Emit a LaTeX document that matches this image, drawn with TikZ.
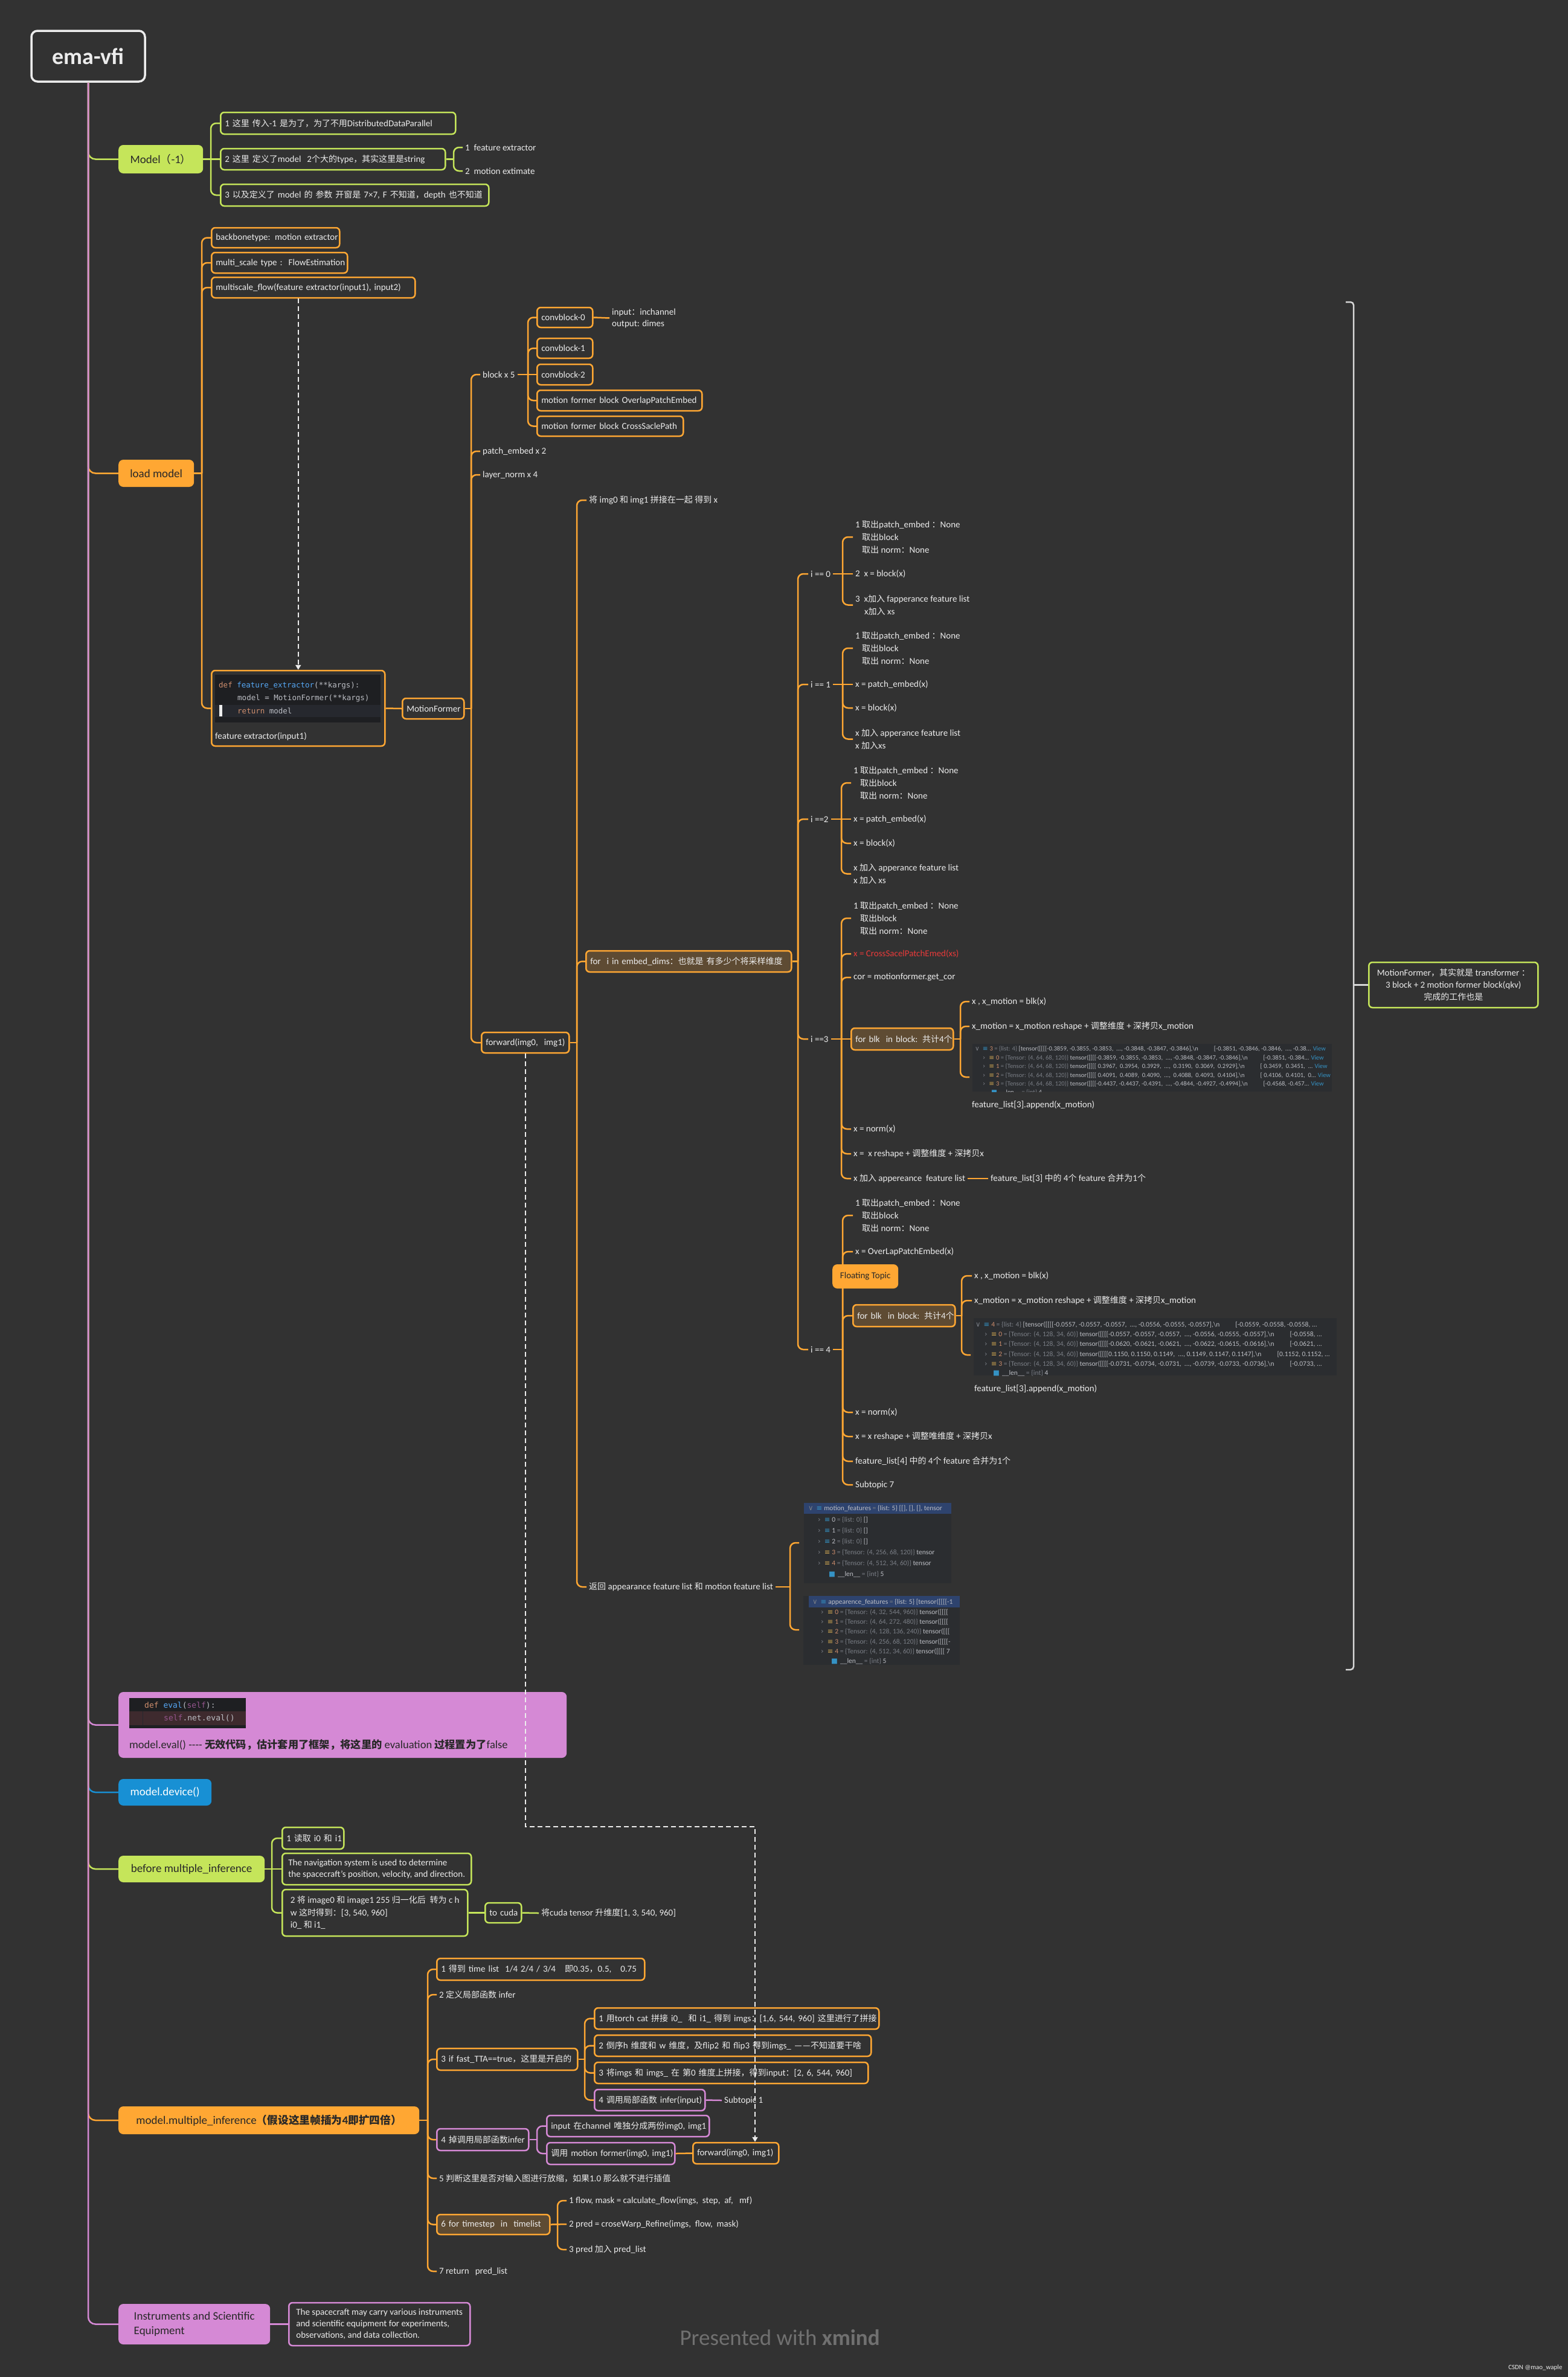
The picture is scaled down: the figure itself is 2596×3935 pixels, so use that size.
\documentclass[tikz,border=0pt]{standalone}
\usepackage{fontspec}
\setmainfont{Carlito}
\newfontfamily\cjkfam{Noto Sans CJK SC}[Scale=0.933]
\newfontfamily\codefam{DejaVu Sans Mono}
\newfontfamily\glyphfont{DejaVu Sans}
\usetikzlibrary{arrows.meta,calc}

% CJK characters switch to the CJK family by themselves
\XeTeXinterchartokenstate=1
\count255="3000
\loop\ifnum\count255<"A000 \XeTeXcharclass\count255=17 \advance\count255 by 1 \repeat
\count255="FF00
\loop\ifnum\count255<"FFF0 \XeTeXcharclass\count255=17 \advance\count255 by 1 \repeat
\XeTeXinterchartoks 0 17 = {\cjkfam}
\XeTeXinterchartoks 1 17 = {\cjkfam}
\XeTeXinterchartoks 2 17 = {\cjkfam}
\XeTeXinterchartoks 3 17 = {\cjkfam}
\XeTeXinterchartoks 4095 17 = {\cjkfam}
\XeTeXinterchartoks 17 0 = {\rmfamily}
\XeTeXinterchartoks 17 1 = {\rmfamily}
\XeTeXinterchartoks 17 2 = {\rmfamily}
\XeTeXinterchartoks 17 3 = {\rmfamily}
\XeTeXinterchartoks 17 4095 = {\rmfamily}

\definecolor{bg}{RGB}{50,50,50}
\definecolor{fg}{RGB}{236,236,236}
\definecolor{dark}{RGB}{40,40,40}
\definecolor{morange}{RGB}{255,167,51}
\definecolor{mgreen}{RGB}{197,229,90}
\definecolor{mpink}{RGB}{213,137,213}
\definecolor{mblue}{RGB}{24,144,212}
\definecolor{mbrown}{RGB}{94,75,51}
\definecolor{codebg}{RGB}{30,31,34}
\definecolor{codehl}{RGB}{38,40,46}
\definecolor{codered}{RGB}{62,42,46}
\definecolor{codefg}{RGB}{188,190,196}
\definecolor{kw}{RGB}{207,142,109}
\definecolor{fn}{RGB}{86,168,245}
\definecolor{slf}{RGB}{148,85,141}
\definecolor{dbgbg}{RGB}{43,45,48}
\definecolor{dbgdim}{RGB}{122,126,133}
\definecolor{dbgsel}{RGB}{46,67,110}
\definecolor{icblue}{RGB}{53,146,196}
\definecolor{icorange}{RGB}{199,160,80}
\definecolor{redtxt}{RGB}{232,58,58}
\definecolor{bracket}{RGB}{215,215,215}
\definecolor{wmark}{RGB}{112,112,112}

\newcommand\rootfont{\fontsize{38}{42}\selectfont\bfseries}
\newcommand\topicfont{\fontsize{19}{24}\selectfont}
\newcommand\subfont{\fontsize{15}{21}\selectfont}
\newcommand\codefont{\codefam\fontsize{12.5}{15}\selectfont}
\newcommand\dbgfont{\fontsize{10.5}{12}\selectfont}
\newcommand\dbgbigfont{\fontsize{11.5}{13}\selectfont}

\begin{document}
\begin{tikzpicture}[x=1pt, y=-1pt,
    mbox/.style={draw, rounded corners=6pt, line width=2.5pt, fill=bg, text=fg, font=\subfont, inner xsep=7pt, inner ysep=0pt, anchor=west},
    oneline/.style={text width=#1, align=left, execute at begin node=\hbox\bgroup, execute at end node=\egroup},
    obox/.style={mbox, draw=morange},
    gbox/.style={mbox, draw=mgreen},
    pbox/.style={mbox, draw=mpink},
    bbox/.style={mbox, draw=morange, fill=mbrown},
    leaf/.style={text=fg, font=\subfont, inner sep=4pt, anchor=west, align=left},
    topic/.style={rounded corners=8pt, text=dark, font=\topicfont, inner xsep=10pt, anchor=west},
    wire/.style={line width=2.5pt, rounded corners=9pt},
    owire/.style={wire, draw=morange},
    gwire/.style={wire, draw=mgreen},
    pwire/.style={wire, draw=mpink},
    relation/.style={draw=fg, line width=2pt, dash pattern=on 8pt off 5pt, -{Triangle[width=9pt,length=8pt]}},
    codeline/.style={anchor=west, inner sep=0pt, font=\codefont, text=codefg},
    dbgrow/.style={anchor=west, inner sep=0pt, font=\dbgfont, text=codefg}]

\useasboundingbox (0,0) rectangle (2596,3935);
\fill[bg] (0,0) rectangle (2596,3935);

% Root and main topics
\node[draw=fg, line width=3.5pt, rounded corners=10pt, fill=bg, text=fg, font=\rootfont, minimum width=188pt, minimum height=84pt] (root) at (146,93) {ema-vfi};
\node[topic, fill=mgreen, minimum width=140pt, minimum height=47pt] (model) at (196,263.5) {Model（-1）};
\node[topic, fill=morange, minimum width=125pt, minimum height=45pt] (load) at (196,783.5) {load model};
\node[topic, fill=mpink, minimum width=742pt, minimum height=109pt] (eval) at (196,2855.5) {};
\node[topic, fill=mblue, text=white, minimum width=154pt, minimum height=44pt] (device) at (196,2967) {model.device()};
\node[topic, fill=mgreen, minimum width=242pt, minimum height=44pt] (before) at (196,3094) {before multiple\_inference};
\node[topic, fill=morange, minimum width=498pt, minimum height=46pt] (multi) at (196,3510) {model.multiple\_inference\textbf{（假设这里帧插为4即扩四倍）}};
\node[topic, fill=mpink, minimum width=251pt, minimum height=67pt, align=left] (instr) at (196,3847.5) {Instruments and Scientific\\Equipment};

\foreach \t/\c in {model/mgreen, load/morange, eval/mpink, device/mblue, before/mgreen, multi/morange, instr/mpink}
  \draw[wire, draw=\c, rounded corners=12pt] (root.south) |- (\t.west);

% Model(-1)
\node[gbox, oneline=375pt, minimum height=36pt] (m1) at (364,204) {1 这里 传入-1 是为了，为了不用DistributedDataParallel};
\node[gbox, oneline=358pt, minimum height=35pt] (m2) at (364,263.5) {2 这里 定义了model\ \ 2个大的type，其实这里是string};
\node[gbox, oneline=430pt, minimum height=36pt] (m3) at (364,323) {3 以及定义了 model 的 参数 开窗是 7×7, F 不知道，depth 也不知道};
\node[leaf] (m2a) at (766,244) {1\ \ feature extractor};
\node[leaf] (m2b) at (766,283) {2\ \ motion extimate};
\coordinate (modelT) at (349,263.5);
\coordinate (m2T) at (751,263.5);
\draw[gwire] (model.east) -- (m2.west);
\foreach \c in {m1,m3} \draw[gwire] (modelT) |- (\c.west);
\draw[gwire] (m2.east) -- (m2T);
\foreach \c in {m2a,m2b} \draw[gwire] (m2T) |- (\c.west);

% load model
\node[obox, oneline=198pt, minimum height=33pt] (backbone) at (349,393.5) {backbonetype: motion extractor};
\node[obox, oneline=211pt, minimum height=34pt] (mscale) at (349,435) {multi\_scale type :\ \ FlowEstimation};
\node[obox, oneline=323pt, minimum height=34pt] (msflow) at (349,476) {multiscale\_flow(feature extractor(input1), input2)};
\node[obox, minimum width=287pt, minimum height=125pt] (fext) at (349,1172.5) {};
\fill[codebg] (356,1117) rectangle (630,1196);
\fill[codehl] (356,1167) rectangle (630,1187);
\fill[fg] (363,1167) rectangle (368,1186);
\node[codeline] (fx1) at (362,1135) {\textcolor{kw}{def} \textcolor{fn}{feature\_extractor}(**kargs):};
\node[codeline] (fx2) at (393,1156) {model = MotionFormer(**kargs)};
\node[codeline] (fx3) at (393,1177) {\textcolor{kw}{return} model};
\node[leaf] (fxcap) at (352,1219) {feature extractor(input1)};
\coordinate (lmT) at (334,783.5);
\draw[owire] (load.east) -- (lmT);
\foreach \c in {backbone,mscale,msflow,fext} \draw[owire] (lmT) |- (\c.west);

% MotionFormer
\node[obox, oneline=88pt, minimum height=34pt] (mf) at (665,1173) {MotionFormer};
\draw[owire] (fext.east) -- (mf.west);
\node[leaf] (blockx) at (795,620) {block x 5};
\node[leaf] (patchx) at (795,747) {patch\_embed x 2};
\node[leaf] (normx) at (795,786) {layer\_norm x 4};
\node[obox, oneline=131pt, minimum height=34pt] (fwd) at (796,1726) {forward(img0,\ \ img1)};
\coordinate (mfT) at (780,1173);
\draw[owire] (mf.east) -- (mfT);
\foreach \c in {blockx,patchx,normx,fwd} \draw[owire] (mfT) |- (\c.west);

\node[obox, oneline=78pt, minimum height=33pt] (cb0) at (888,525.5) {convblock-0};
\node[obox, oneline=78pt, minimum height=33pt] (cb1) at (888,576.5) {convblock-1};
\node[obox, oneline=78pt, minimum height=34pt] (cb2) at (888,620) {convblock-2};
\node[obox, oneline=259pt, minimum height=34pt] (mfb1) at (888,663) {motion former block OverlapPatchEmbed};
\node[obox, oneline=228pt, minimum height=33pt] (mfb2) at (888,705.5) {motion former block CrossSaclePath};
\node[leaf, font=\fontsize{15}{19}\selectfont] (cbnote) at (1009,526.5) {input：inchannel\\output: dimes};
\coordinate (bT) at (874,620);
\draw[owire] (blockx.east) -- (cb2.west);
\foreach \c in {cb0,cb1,mfb1,mfb2} \draw[owire] (bT) |- (\c.west);
\draw[owire] (cb0.east) -- (cbnote.west);

% forward(img0, img1)
\node[leaf] (concat) at (971,828) {将 img0 和 img1 拼接在一起 得到 x};
\node[bbox, oneline=326pt, minimum height=35pt] (foremb) at (969,1591.5) {for\ \ i\ in embed\_dims：也就是 有多少个将采样维度};
\node[leaf] (ret) at (971,2627) {返回 appearance feature list 和 motion feature list};
\coordinate (fT) at (955,1726);
\draw[owire] (fwd.east) -- (fT);
\foreach \c in {concat,foremb,ret} \draw[owire] (fT) |- (\c.west);

\node[leaf] (i0) at (1338,950) {i == 0};
\node[leaf] (i1) at (1338,1133) {i == 1};
\node[leaf] (i2) at (1338,1356) {i ==2};
\node[leaf] (i3) at (1338,1720) {i ==3};
\node[leaf] (i4) at (1338,2234) {i == 4};
\coordinate (eT) at (1321,1591.5);
\draw[owire] (foremb.east) -- (eT);
\foreach \c in {i0,i1,i2,i3,i4} \draw[owire] (eT) |- (\c.west);

% i == 0
\node[leaf] (i0a) at (1412,889) {1 取出patch\_embed ：None\\\hspace*{11pt}取出block\\\hspace*{11pt}取出 norm：None};
\node[leaf] (i0b) at (1412,950) {2\ \ x = block(x)};
\node[leaf] (i0c) at (1412,1001.5) {3\ \ x加入 fapperance feature list\\\hspace*{15pt}x加入 xs};
\coordinate (i0T) at (1395,950);
\draw[owire] (i0.east) -- (i0b.west);
\foreach \c in {i0a,i0c} \draw[owire] (i0T) |- (\c.west);

% i == 1
\node[leaf] (i1a) at (1412,1073) {1 取出patch\_embed ：None\\\hspace*{11pt}取出block\\\hspace*{11pt}取出 norm：None};
\node[leaf] (i1b) at (1412,1133) {x = patch\_embed(x)};
\node[leaf] (i1c) at (1412,1172) {x = block(x)};
\node[leaf] (i1d) at (1412,1223.5) {x 加入 apperance feature list\\x 加入xs};
\coordinate (i1T) at (1395,1133);
\draw[owire] (i1.east) -- (i1b.west);
\foreach \c in {i1a,i1c,i1d} \draw[owire] (i1T) |- (\c.west);

% i == 2
\node[leaf] (i2a) at (1409,1296) {1 取出patch\_embed ：None\\\hspace*{11pt}取出block\\\hspace*{11pt}取出 norm：None};
\node[leaf] (i2b) at (1409,1356) {x = patch\_embed(x)};
\node[leaf] (i2c) at (1409,1396) {x = block(x)};
\node[leaf] (i2d) at (1409,1446.5) {x 加入 apperance feature list\\x 加入 xs};
\coordinate (i2T) at (1393,1356);
\draw[owire] (i2.east) -- (i2b.west);
\foreach \c in {i2a,i2c,i2d} \draw[owire] (i2T) |- (\c.west);

% i == 3
\node[leaf] (i3a) at (1409,1520) {1 取出patch\_embed ：None\\\hspace*{11pt}取出block\\\hspace*{11pt}取出 norm：None};
\node[leaf, text=redtxt] (i3b) at (1409,1579) {x = CrossSacelPatchEmed(xs)};
\node[leaf] (i3c) at (1409,1618) {cor = motionformer.get\_cor};
\node[bbox, oneline=155pt, minimum height=36pt] (i3d) at (1408,1720) {for\ blk\ \ in block: 共计4个};
\node[leaf] (i3e) at (1409,1869) {x = norm(x)};
\node[leaf] (i3f) at (1409,1910) {x =\ \ x reshape + 调整维度 + 深拷贝x};
\node[leaf] (i3g) at (1409,1951) {x 加入 appereance\ \ feature list};
\node[leaf] (i3h) at (1636,1951) {feature\_list[3] 中的 4个 feature 合并为1个};
\coordinate (i3T) at (1393,1720);
\draw[owire] (i3.east) -- (i3d.west);
\foreach \c in {i3a,i3b,i3c,i3e,i3f,i3g} \draw[owire] (i3T) |- (\c.west);
\draw[owire] (i3g.east) -- (i3h.west);

\node[leaf] (i3d1) at (1605,1658) {x , x\_motion = blk(x)};
\node[leaf] (i3d2) at (1605,1699) {x\_motion = x\_motion reshape + 调整维度 + 深拷贝x\_motion};
\node[leaf] (i3cap) at (1605,1829) {feature\_list[3].append(x\_motion)};
\coordinate (i3grp) at (1605,1783);
\coordinate (i3dT) at (1590,1720);
\draw[owire] (i3d.east) -- (i3dT);
\foreach \c in {i3d1,i3d2,i3grp} \draw[owire] (i3dT) |- (\c);

\begin{scope}
\clip (1610,1728) rectangle (2205,1807);
\fill[dbgbg] (1610,1728) rectangle (2205,1807);
\node[dbgrow] (t30) at (1614,1736) {\textcolor{dbgdim}{\glyphfont ∨}\hspace{5pt}\textcolor{icblue}{\glyphfont ≡}\hspace{3pt}\textcolor{kw}{3} \textcolor{dbgdim}{= \{list: 4\}} [tensor([[[[-0.3859, -0.3855, -0.3853,\ \ ..., -0.3848, -0.3847, -0.3846],\textbackslash n\hspace{26pt}[-0.3851, -0.3846, -0.3846,\ \ ..., -0.38... \textcolor{icblue}{View}};
\node[dbgrow] (t31) at (1627,1751) {\textcolor{dbgdim}{\glyphfont ›}\hspace{6pt}\textcolor{icorange}{\glyphfont ≡}\hspace{3pt}\textcolor{kw}{0} \textcolor{dbgdim}{= \{Tensor: (4, 64, 68, 120)\}} tensor([[[[-0.3859, -0.3855, -0.3853,\ \ ..., -0.3848, -0.3847, -0.3846],\textbackslash n\hspace{26pt}[-0.3851, -0.384... \textcolor{icblue}{View}};
\node[dbgrow] (t32) at (1627,1765) {\textcolor{dbgdim}{\glyphfont ›}\hspace{6pt}\textcolor{icorange}{\glyphfont ≡}\hspace{3pt}\textcolor{kw}{1} \textcolor{dbgdim}{= \{Tensor: (4, 64, 68, 120)\}} tensor([[[[ 0.3967,\ \ 0.3954,\ \ 0.3929,\ \ ...,\ \ 0.3190,\ \ 0.3069,\ \ 0.2929],\textbackslash n\hspace{26pt}[ 0.3459,\ \ 0.3451,\ \ ... \textcolor{icblue}{View}};
\node[dbgrow] (t33) at (1627,1780) {\textcolor{dbgdim}{\glyphfont ›}\hspace{6pt}\textcolor{icorange}{\glyphfont ≡}\hspace{3pt}\textcolor{kw}{2} \textcolor{dbgdim}{= \{Tensor: (4, 64, 68, 120)\}} tensor([[[[ 0.4091,\ \ 0.4089,\ \ 0.4090,\ \ ...,\ \ 0.4088,\ \ 0.4093,\ \ 0.4104],\textbackslash n\hspace{26pt}[ 0.4106,\ \ 0.4101,\ \ 0... \textcolor{icblue}{View}};
\node[dbgrow] (t34) at (1627,1794) {\textcolor{dbgdim}{\glyphfont ›}\hspace{6pt}\textcolor{icorange}{\glyphfont ≡}\hspace{3pt}\textcolor{kw}{3} \textcolor{dbgdim}{= \{Tensor: (4, 64, 68, 120)\}} tensor([[[[-0.4437, -0.4437, -0.4391,\ \ ..., -0.4844, -0.4927, -0.4994],\textbackslash n\hspace{26pt}[-0.4568, -0.457... \textcolor{icblue}{View}};
\node[dbgrow] (t35) at (1641,1808) {\textcolor{icblue}{\glyphfont ■}\hspace{4pt}\_\_len\_\_ \textcolor{dbgdim}{= \{int\}} 4};
\end{scope}

% i == 4
\node[leaf] (i4a) at (1412,2012) {1 取出patch\_embed ：None\\\hspace*{11pt}取出block\\\hspace*{11pt}取出 norm：None};
\node[leaf] (i4b) at (1412,2072) {x = OverLapPatchEmbed(x)};
\node[bbox, oneline=155pt, minimum height=36pt] (i4c) at (1411,2178) {for\ blk\ \ in block: 共计4个};
\node[leaf] (i4d) at (1412,2338) {x = norm(x)};
\node[leaf] (i4e) at (1412,2378) {x = x reshape + 调整唯维度 + 深拷贝x};
\node[leaf] (i4f) at (1412,2419) {feature\_list[4] 中的 4个 feature 合并为1个};
\node[leaf] (i4g) at (1412,2458) {Subtopic 7};
\coordinate (i4T) at (1395,2234);
\draw[owire] (i4.east) -- (i4T);
\foreach \c in {i4a,i4b,i4c,i4d,i4e,i4f,i4g} \draw[owire] (i4T) |- (\c.west);

\node[leaf] (i4c1) at (1609,2112) {x , x\_motion = blk(x)};
\node[leaf] (i4c2) at (1609,2153) {x\_motion = x\_motion reshape + 调整维度 + 深拷贝x\_motion};
\node[leaf] (i4cap) at (1609,2299) {feature\_list[3].append(x\_motion)};
\coordinate (i4grp) at (1607,2243);
\coordinate (i4cT) at (1592,2178);
\draw[owire] (i4c.east) -- (i4cT);
\foreach \c in {i4c1,i4c2,i4grp} \draw[owire] (i4cT) |- (\c);

\begin{scope}[dbgrow/.append style={font=\dbgbigfont}]
\clip (1612,2182) rectangle (2213,2277);
\fill[dbgbg] (1612,2182) rectangle (2213,2277);
\node[dbgrow] (t40) at (1615,2193) {\textcolor{dbgdim}{\glyphfont ∨}\hspace{5pt}\textcolor{icblue}{\glyphfont ≡}\hspace{3pt}\textcolor{kw}{4} \textcolor{dbgdim}{= \{list: 4\}} [tensor([[[[-0.0557, -0.0557, -0.0557,\ \ ..., -0.0556, -0.0555, -0.0557],\textbackslash n\hspace{26pt}[-0.0559, -0.0558, -0.0558, ...};
\node[dbgrow] (t41) at (1630,2209) {\textcolor{dbgdim}{\glyphfont ›}\hspace{6pt}\textcolor{icorange}{\glyphfont ≡}\hspace{3pt}\textcolor{kw}{0} \textcolor{dbgdim}{= \{Tensor: (4, 128, 34, 60)\}} tensor([[[[-0.0557, -0.0557, -0.0557,\ \ ..., -0.0556, -0.0555, -0.0557],\textbackslash n\hspace{26pt}[-0.0558, ...};
\node[dbgrow] (t42) at (1630,2225) {\textcolor{dbgdim}{\glyphfont ›}\hspace{6pt}\textcolor{icorange}{\glyphfont ≡}\hspace{3pt}\textcolor{kw}{1} \textcolor{dbgdim}{= \{Tensor: (4, 128, 34, 60)\}} tensor([[[[-0.0620, -0.0621, -0.0621,\ \ ..., -0.0622, -0.0615, -0.0616],\textbackslash n\hspace{26pt}[-0.0621, ...};
\node[dbgrow] (t43) at (1630,2242) {\textcolor{dbgdim}{\glyphfont ›}\hspace{6pt}\textcolor{icorange}{\glyphfont ≡}\hspace{3pt}\textcolor{kw}{2} \textcolor{dbgdim}{= \{Tensor: (4, 128, 34, 60)\}} tensor([[[[0.1150, 0.1150, 0.1149,\ \ ..., 0.1149, 0.1147, 0.1147],\textbackslash n\hspace{26pt}[0.1152, 0.1152, ...};
\node[dbgrow] (t44) at (1630,2258) {\textcolor{dbgdim}{\glyphfont ›}\hspace{6pt}\textcolor{icorange}{\glyphfont ≡}\hspace{3pt}\textcolor{kw}{3} \textcolor{dbgdim}{= \{Tensor: (4, 128, 34, 60)\}} tensor([[[[-0.0731, -0.0734, -0.0731,\ \ ..., -0.0739, -0.0733, -0.0736],\textbackslash n\hspace{26pt}[-0.0733, ...};
\node[dbgrow] (t45) at (1644,2273) {\textcolor{icblue}{\glyphfont ■}\hspace{4pt}\_\_len\_\_ \textcolor{dbgdim}{= \{int\}} 4};
\end{scope}

% returned feature lists
\coordinate (mgrp) at (1323,2554);
\coordinate (agrp) at (1323,2698);
\coordinate (rT) at (1308,2627);
\draw[owire] (ret.east) -- (rT);
\foreach \c in {mgrp,agrp} \draw[owire] (rT) |- (\c);

\begin{scope}[dbgrow/.append style={font=\dbgbigfont}]
\clip (1331,2488) rectangle (1575,2621);
\fill[dbgbg] (1331,2488) rectangle (1575,2621);
\fill[dbgsel] (1331,2488) rectangle (1575,2506);
\node[dbgrow] (mf0) at (1338,2497) {\textcolor{dbgdim}{\glyphfont ∨}\hspace{5pt}\textcolor{icblue}{\glyphfont ≡}\hspace{3pt}motion\_features \textcolor{dbgdim}{=} \{list: 5\} [[], [], [], tensor};
\node[dbgrow] (mf1) at (1354,2516) {\textcolor{dbgdim}{\glyphfont ›}\hspace{6pt}\textcolor{icblue}{\glyphfont ≡}\hspace{3pt}0 \textcolor{dbgdim}{= \{list: 0\}} []};
\node[dbgrow] (mf2) at (1354,2534) {\textcolor{dbgdim}{\glyphfont ›}\hspace{6pt}\textcolor{icblue}{\glyphfont ≡}\hspace{3pt}1 \textcolor{dbgdim}{= \{list: 0\}} []};
\node[dbgrow] (mf3) at (1354,2552) {\textcolor{dbgdim}{\glyphfont ›}\hspace{6pt}\textcolor{icblue}{\glyphfont ≡}\hspace{3pt}2 \textcolor{dbgdim}{= \{list: 0\}} []};
\node[dbgrow] (mf4) at (1354,2570) {\textcolor{dbgdim}{\glyphfont ›}\hspace{6pt}\textcolor{icorange}{\glyphfont ≡}\hspace{3pt}\textcolor{kw}{3} \textcolor{dbgdim}{= \{Tensor: (4, 256, 68, 120)\}} tensor};
\node[dbgrow] (mf5) at (1354,2588) {\textcolor{dbgdim}{\glyphfont ›}\hspace{6pt}\textcolor{icorange}{\glyphfont ≡}\hspace{3pt}\textcolor{kw}{4} \textcolor{dbgdim}{= \{Tensor: (4, 512, 34, 60)\}} tensor};
\node[dbgrow] (mf6) at (1372,2606) {\textcolor{icblue}{\glyphfont ■}\hspace{4pt}\_\_len\_\_ \textcolor{dbgdim}{= \{int\}} 5};
\end{scope}

\begin{scope}[dbgrow/.append style={font=\dbgbigfont}]
\clip (1330,2642) rectangle (1589,2756);
\fill[dbgbg] (1330,2642) rectangle (1589,2756);
\fill[dbgsel] (1339,2642) rectangle (1589,2661);
\node[dbgrow] (af0) at (1345,2652) {\textcolor{dbgdim}{\glyphfont ∨}\hspace{5pt}\textcolor{icblue}{\glyphfont ≡}\hspace{3pt}appearence\_features \textcolor{dbgdim}{=} \{list: 5\} [tensor([[[[-1};
\node[dbgrow] (af1) at (1359,2669) {\textcolor{dbgdim}{\glyphfont ›}\hspace{6pt}\textcolor{icorange}{\glyphfont ≡}\hspace{3pt}\textcolor{kw}{0} \textcolor{dbgdim}{= \{Tensor: (4, 32, 544, 960)\}} tensor([[[[};
\node[dbgrow] (af2) at (1359,2685) {\textcolor{dbgdim}{\glyphfont ›}\hspace{6pt}\textcolor{icorange}{\glyphfont ≡}\hspace{3pt}\textcolor{kw}{1} \textcolor{dbgdim}{= \{Tensor: (4, 64, 272, 480)\}} tensor([[[[};
\node[dbgrow] (af3) at (1359,2701) {\textcolor{dbgdim}{\glyphfont ›}\hspace{6pt}\textcolor{icorange}{\glyphfont ≡}\hspace{3pt}\textcolor{kw}{2} \textcolor{dbgdim}{= \{Tensor: (4, 128, 136, 240)\}} tensor([[[};
\node[dbgrow] (af4) at (1359,2718) {\textcolor{dbgdim}{\glyphfont ›}\hspace{6pt}\textcolor{icorange}{\glyphfont ≡}\hspace{3pt}\textcolor{kw}{3} \textcolor{dbgdim}{= \{Tensor: (4, 256, 68, 120)\}} tensor([[[[-};
\node[dbgrow] (af5) at (1359,2734) {\textcolor{dbgdim}{\glyphfont ›}\hspace{6pt}\textcolor{icorange}{\glyphfont ≡}\hspace{3pt}\textcolor{kw}{4} \textcolor{dbgdim}{= \{Tensor: (4, 512, 34, 60)\}} tensor([[[[ 7};
\node[dbgrow] (af6) at (1376,2750) {\textcolor{icblue}{\glyphfont ■}\hspace{4pt}\_\_len\_\_ \textcolor{dbgdim}{= \{int\}} 5};
\end{scope}

% summary bracket and its note
\draw[draw=bracket, line width=2.5pt, rounded corners=5pt] (2228,500) -- (2241,500) -- (2241,2764) -- (2228,2764);
\node[mbox, draw=mgreen, align=center, minimum width=280pt, minimum height=75pt, font=\fontsize{15}{20}\selectfont] (note) at (2265,1630.5) {MotionFormer，其实就是 transformer ：\\3 block + 2 motion former block(qkv)\\完成的工作也是};
\coordinate (brk) at (2241,1630.5);
\draw[draw=bracket, line width=2.5pt] (brk) -- (note.west);

% model.eval()
\fill[codebg] (214,2811) rectangle (407,2861);
\fill[codered] (214,2833) rectangle (407,2856);
\draw[draw=codehl, line width=1pt] (236,2833) -- (236,2856);
\node[codeline, font=\codefam\fontsize{13}{15}\selectfont] (ev1) at (239,2823) {\textcolor{kw}{def} \textcolor{fn}{eval}(\textcolor{slf}{self}):};
\node[codeline, font=\codefam\fontsize{13}{15}\selectfont] (ev2) at (271,2844) {\textcolor{slf}{self}.net.eval()};
\node[anchor=west, inner sep=0pt, text=dark, font=\fontsize{18.5}{22}\selectfont] (evtxt) at (214,2888) {model.eval() \hbox{-}\hbox{-}\hbox{-}\hbox{-} \textbf{无效代码，估计套用了框架，将这里的} evaluation \textbf{过程置为了}false};

% before multiple_inference
\node[gbox, oneline=88pt, minimum height=36pt] (b1) at (466,3043) {1 读取 i0 和 i1};
\node[mbox, draw=mgreen, align=left, minimum width=313pt, minimum height=52pt, font=\fontsize{15}{19}\selectfont] (b2) at (466,3094) {The navigation system is used to determine\\the spacecraft's position, velocity, and direction.};
\node[mbox, draw=mgreen, align=left, minimum width=307pt, minimum height=77pt, font=\fontsize{15}{20.5}\selectfont] (b3) at (466,3166.5) {2 将 image0 和 image1 255 归一化后\ \ 转为 c h\\w 这时得到：[3, 540, 960]\\i0\_ 和 i1\_};
\node[gbox, oneline=46pt, minimum height=33pt] (tocuda) at (802,3166.5) {to cuda};
\node[leaf] (cudatxt) at (892,3167) {将cuda tensor 升维度[1, 3, 540, 960]};
\coordinate (beT) at (450,3094);
\draw[gwire] (before.east) -- (b2.west);
\foreach \c in {b1,b3} \draw[gwire] (beT) |- (\c.west);
\draw[gwire] (b3.east) -- (tocuda.west);
\draw[gwire] (tocuda.east) -- (cudatxt.west);

% model.multiple_inference
\node[obox, oneline=330pt, minimum height=36pt] (mi1) at (722,3260) {1 得到 time list\ \ 1/4 2/4 / 3/4\ \ \ 即0.35，0.5,\ \ \ 0.75};
\node[leaf] (mi2) at (723,3302) {2 定义局部函数 infer};
\node[obox, oneline=219pt, minimum height=36pt] (mi3) at (722,3409) {3 if fast\_TTA==true，这里是开启的};
\node[pbox, oneline=138pt, minimum height=36pt] (mi4) at (722,3542) {4 掉调用局部函数infer};
\node[leaf] (mi5) at (723,3606) {5 判断这里是否对输入图进行放缩，如果1.0 那么就不进行插值};
\node[bbox, oneline=173pt, minimum height=33pt] (mi6) at (722,3682.5) {6 for\ timestep\ \ in\ \ timelist};
\node[leaf] (mi7) at (723,3760) {7 return\ \ \ pred\_list};
\coordinate (miT) at (708,3510);
\draw[owire] (multi.east) -- (miT);
\foreach \c in {mi1,mi2,mi3,mi4,mi5,mi6,mi7} \draw[owire] (miT) |- (\c.west);

\node[obox, oneline=457pt, minimum height=35pt] (mi3a) at (983,3341.5) {1 用torch cat 拼接 i0\_\ \ 和 i1\_ 得到 imgs：[1,6, 544, 960] 这里进行了拼接};
\node[obox, oneline=444pt, minimum height=35pt] (mi3b) at (983,3386.5) {2 倒序h 维度和 w 维度，及flip2 和 flip3 得到imgs\_ ——不知道要干啥};
\node[obox, oneline=439pt, minimum height=35pt] (mi3c) at (983,3431.5) {3 将imgs 和 imgs\_ 在 第0 维度上拼接，得到input：[2, 6, 544, 960]};
\node[pbox, oneline=169pt, minimum height=35pt] (mi3d) at (983,3476.5) {4 调用局部函数 infer(input)};
\node[leaf] (sub1) at (1195,3477) {Subtopic 1};
\coordinate (mi3T) at (968,3409);
\draw[owire] (mi3.east) -- (mi3T);
\foreach \c in {mi3a,mi3b,mi3c,mi3d} \draw[owire] (mi3T) |- (\c.west);
\draw[pwire] (mi3d.east) -- (sub1.west);

\node[pbox, oneline=255pt, minimum height=35pt] (mi4a) at (904,3519.5) {input 在channel 唯独分成两份img0, img1};
\node[pbox, oneline=198pt, minimum height=36pt] (mi4b) at (904,3565) {调用 motion former(img0, img1)};
\node[obox, oneline=128pt, minimum height=35pt] (mi4f) at (1146,3564.5) {forward(img0, img1)};
\coordinate (mi4T) at (889,3542);
\draw[pwire] (mi4.east) -- (mi4T);
\foreach \c in {mi4a,mi4b} \draw[pwire] (mi4T) |- (\c.west);
\draw[owire] (mi4b.east) -- (mi4f.west);

\node[leaf] (mi6a) at (938,3643) {1 flow, mask = calculate\_flow(imgs,\ \ step,\ \ af,\ \ \ mf)};
\node[leaf] (mi6b) at (938,3682) {2 pred = croseWarp\_Refine(imgs,\ \ flow,\ \ mask)};
\node[leaf] (mi6c) at (938,3724) {3 pred 加入 pred\_list};
\coordinate (mi6T) at (923,3682.5);
\draw[owire] (mi6.east) -- (mi6b.west);
\foreach \c in {mi6a,mi6c} \draw[owire] (mi6T) |- (\c.west);

% Instruments
\node[mbox, draw=mpink, align=left, minimum width=300pt, minimum height=71pt, font=\fontsize{15}{19}\selectfont] (desc) at (477,3847.5) {The spacecraft may carry various instruments\\and scientific equipment for experiments,\\observations, and data collection.};
\draw[pwire] (instr.east) -- (desc.west);

% floating topic and relations on top
\node[topic, fill=morange, minimum width=109pt, minimum height=40pt, font=\subfont] (float) at (1378,2113) {Floating Topic};
\draw[relation] (msflow.south -| fext.north) -- (fext.north);
\coordinate (rbend) at (1250,3024);
\draw[relation] (fwd.south) |- (rbend) -- (rbend |- mi4f.north);

% watermarks
\node[text=wmark, font=\fontsize{37}{40}\selectfont, anchor=west] (xm) at (1122,3870) {Presented with \textbf{xmind}};
\node[text=fg, font=\fontsize{11}{13}\selectfont, anchor=east] (csdn) at (2590,3920) {CSDN @mao\_waple};
\end{tikzpicture}
\end{document}
